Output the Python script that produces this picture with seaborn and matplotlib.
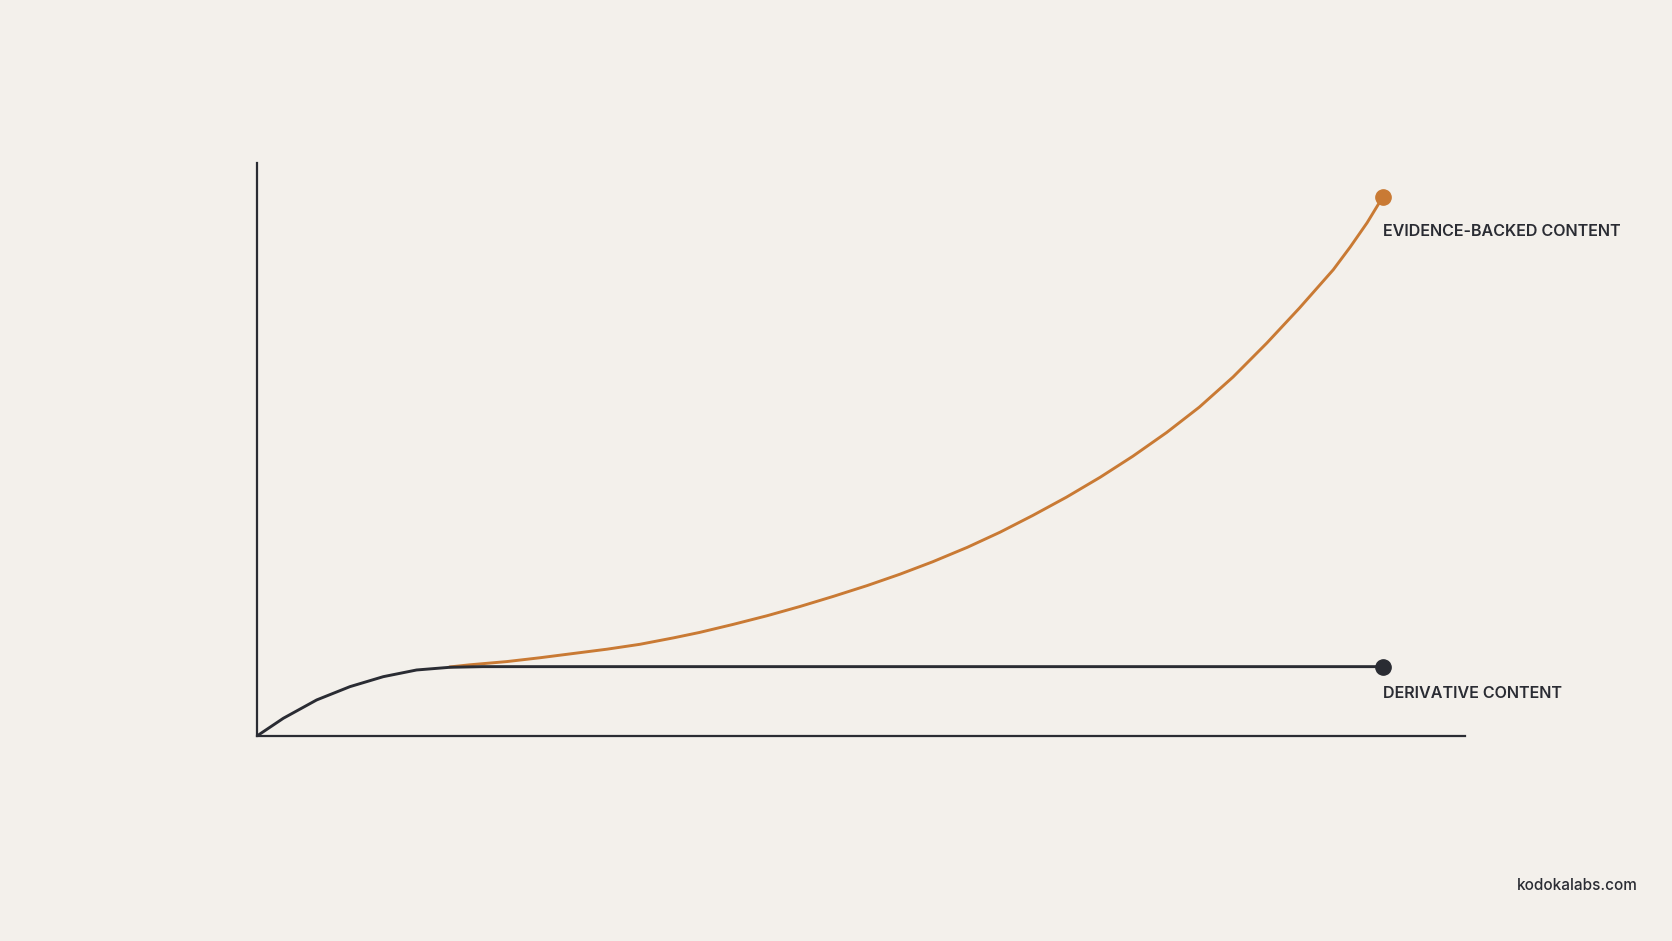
import matplotlib
matplotlib.use("Agg")
import matplotlib.pyplot as plt
import seaborn as sns

# curve values (x: 0..100, y: 0..100)
derivative_x = [0, 2.34, 5.30, 8.26, 11.22, 14.18, 17.14, 20.07, 40, 60, 80, 100]
derivative_y = [0, 3.28, 6.68, 9.15, 11.0, 12.24, 12.74, 12.86, 12.86, 12.86, 12.86, 12.86]

evidence_x = [17.1, 18.9, 22.2, 25.1, 28.1, 31.1, 34.0, 37.0, 39.3, 42.3, 45.3,
              48.2, 51.2, 54.2, 57.1, 60.0, 63.1, 66.0, 68.9, 71.9, 74.9,
              77.8, 80.8, 83.7, 86.7, 89.7, 92.6, 95.6, 97.1, 98.6, 100]
evidence_y = [12.8, 13.2, 13.8, 14.5, 15.3, 16.1, 17.0, 18.2, 19.2, 20.7, 22.3,
              24.0, 25.9, 27.9, 30.0, 32.3, 35.0, 37.8, 40.9, 44.3, 48.0,
              51.9, 56.3, 61.0, 66.6, 72.9, 79.4, 86.5, 90.7, 95.2, 100]

series_labels = ["EVIDENCE-BACKED CONTENT", "DERIVATIVE CONTENT"]
credit = "kodokalabs.com"

BG = "#f3f0eb"
INK = "#2a2c33"
ORANGE = "#c97a34"

sns.set_theme(style="white")
plt.rcParams["font.family"] = ["Inter", "DejaVu Sans"]

fig = plt.figure(figsize=(16.72, 9.41), dpi=100, facecolor=BG)
ax = fig.add_axes([0.1537, 0.2179, 0.7225, 0.6089])
ax.set_facecolor(BG)

sns.lineplot(x=evidence_x, y=evidence_y, ax=ax, color=ORANGE, linewidth=2.1,
             estimator=None, sort=False, zorder=2)
sns.lineplot(x=derivative_x, y=derivative_y, ax=ax, color=INK, linewidth=2.1,
             estimator=None, sort=False, zorder=3)

ax.plot(evidence_x[-1], evidence_y[-1], "o", color=ORANGE, ms=11, zorder=5)
ax.plot(derivative_x[-1], derivative_y[-1], "o", color=INK, ms=11, zorder=5)

ax.set_xlim(0, 107.3)
ax.set_ylim(0, 106.3)
ax.set_xticks([])
ax.set_yticks([])
for side in ["top", "right"]:
    ax.spines[side].set_visible(False)
for side in ["left", "bottom"]:
    ax.spines[side].set_color(INK)
    ax.spines[side].set_linewidth(1.6)

ax.annotate(series_labels[0], (evidence_x[-1], evidence_y[-1]),
            xytext=(0, -25), textcoords="offset points", ha="left", va="center",
            fontsize=11.6, fontweight="semibold", color=INK)
ax.annotate(series_labels[1], (derivative_x[-1], derivative_y[-1]),
            xytext=(0, -19), textcoords="offset points", ha="left", va="center",
            fontsize=11.6, fontweight="semibold", color=INK)

fig.text(1638 / 1672, 1 - 885 / 941, credit, ha="right", va="center",
         fontsize=11, fontweight="medium", color=INK)

fig.savefig("out.png", dpi=100, facecolor=BG)
